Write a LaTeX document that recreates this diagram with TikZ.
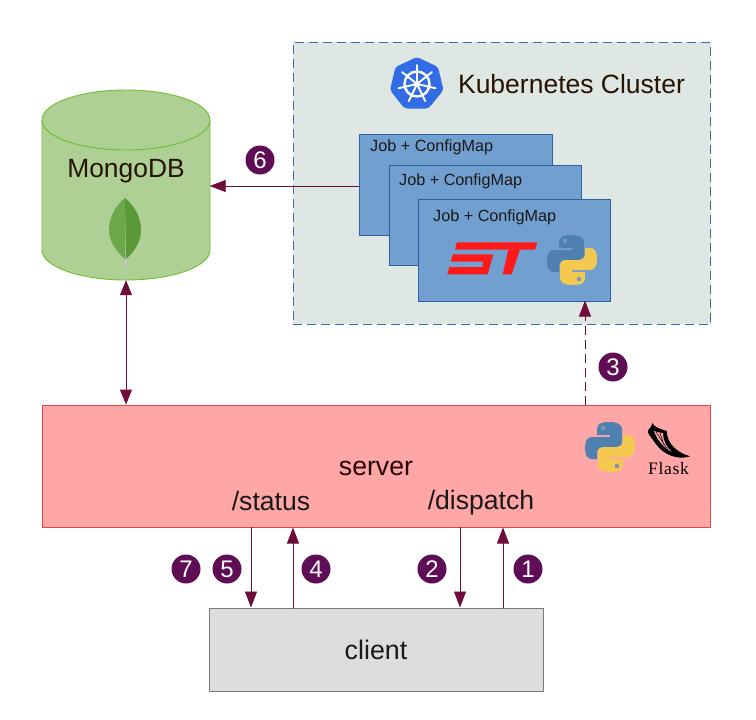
\documentclass[tikz,border=0pt]{standalone}
\usepackage{fontspec}
\setmainfont{Liberation Sans}
\newfontfamily\flaskfont[LetterSpace=4]{Liberation Serif}
\usetikzlibrary{arrows.meta}
\definecolor{arrowc}{HTML}{6E0C3A}
\definecolor{badgec}{HTML}{5F0E55}
\definecolor{clusterbg}{HTML}{DFE7E5}
\definecolor{clusterln}{HTML}{3C6AA5}
\definecolor{jobbg}{HTML}{719FD0}
\definecolor{jobln}{HTML}{2F60A0}
\definecolor{mongobg}{HTML}{AFD095}
\definecolor{mongoln}{HTML}{6CBF30}
\definecolor{leafl}{HTML}{6BA84A}
\definecolor{leafr}{HTML}{5A9838}
\definecolor{serverbg}{HTML}{FFA6A6}
\definecolor{serverln}{HTML}{E04848}
\definecolor{clientbg}{HTML}{DDDDDD}
\definecolor{clientln}{HTML}{7A7A7A}
\definecolor{pyblue}{HTML}{4F81B0}
\definecolor{pyyellow}{HTML}{F4C94F}
\definecolor{stred}{HTML}{FF1A1A}
\definecolor{kubeblue}{HTML}{326CE5}
\tikzset{
  x=1pt,y=-1pt,
  conn/.style={arrowc,line width=0.9pt,-{Triangle[length=16pt,width=12pt]},shorten >=-0.5pt},
  conn2/.style={arrowc,line width=0.9pt,{Triangle[length=15pt,width=12pt]}-{Triangle[length=15pt,width=12pt]}},
  dashconn/.style={conn,dash pattern=on 9pt off 5pt},
  badge/.style={circle,fill=badgec,text=white,minimum size=29pt,inner sep=0pt,font=\fontsize{24}{24}\selectfont},
  jobbox/.style={draw=jobln,fill=jobbg,line width=0.8pt,minimum width=192.5pt,inner sep=0pt},
  joblabel/.style={font=\fontsize{16.2}{18}\selectfont,text=black!90,inner sep=0pt},
  pylogo/.pic={
    \fill[pyblue] (24,0) .. controls (16,0) and (12,2) .. (12,7) -- (12,13) -- (25,13) -- (25,15) -- (7,15)
      .. controls (2,15) and (0,19) .. (0,26) .. controls (0,33) and (2,37) .. (7,37) -- (12,37) -- (12,31)
      .. controls (12,27) and (15,25) .. (18,25) -- (31,25) .. controls (35,25) and (37,23) .. (37,19)
      -- (37,7) .. controls (37,2) and (32,0) .. (24,0) -- cycle;
    \fill[pyyellow] (26,50) .. controls (34,50) and (38,48) .. (38,43) -- (38,37) -- (25,37) -- (25,35) -- (43,35)
      .. controls (48,35) and (50,31) .. (50,24) .. controls (50,17) and (48,13) .. (43,13) -- (38,13) -- (38,19)
      .. controls (38,23) and (35,25) .. (32,25) -- (19,25) .. controls (15,25) and (13,27) .. (13,31)
      -- (13,43) .. controls (13,48) and (18,50) .. (26,50) -- cycle;
    \fill[pic actions] (18,6) circle (2.3);
    \fill[pic actions] (32,44) circle (2.3);
  }
}
\begin{document}
\begin{tikzpicture}
\useasboundingbox (0,0) rectangle (756,720);
\fill[white] (0,0) rectangle (756,720);

% cluster
\node[draw=clusterln,fill=clusterbg,line width=0.8pt,dash pattern=on 9pt off 5pt,minimum width=417.5pt,minimum height=282pt,inner sep=0pt] (cluster) at (501.75,183) {};
\node[inner sep=0pt,font=\fontsize{26.5}{30}\selectfont,text=black!85!orange] (kubelabel) at (571.5,84) {Kubernetes Cluster};
% kubernetes logo
\fill[kubeblue,rounded corners=3pt] (417,57) -- (438,67) -- (443.5,90) -- (428.5,108.5) -- (404.5,108.5) -- (390,90) -- (395.5,67) -- cycle;
\begin{scope}[shift={(417,84)}]
  \draw[white,line width=2.4pt] (0,0) circle (12.5);
  \foreach \a in {-90,-38.6,12.9,64.3,115.7,167.1,218.6} {
    \draw[white,line width=1.9pt,line cap=round] (0,0) -- (\a:19);
  }
  \fill[white] (0,0) circle (3);
\end{scope}

% jobs
\node[jobbox,minimum height=101pt] (job1) at (456,184.5) {};
\node[joblabel,anchor=west] (job1t) at (370,147.5) {Job + ConfigMap};
\node[jobbox,minimum height=100pt] (job2) at (485.25,215) {};
\node[joblabel,anchor=west] (job2t) at (399,181) {Job + ConfigMap};
\node[jobbox,minimum height=102pt] (job3) at (514.25,250) {};
\node[joblabel,anchor=west] (job3t) at (433,217) {Job + ConfigMap};
% ST logo
\fill[stred] (456.7,242.3) -- (537.3,242.3) -- (535,249.7) -- (455,249.7) -- cycle;
\fill[stred] (452.7,254.3) -- (493.3,254.3) -- (487.7,274.3) -- (447.3,274.3) -- (449.3,267) -- (482.3,267) -- (483.3,261.7) -- (450.7,261.7) -- cycle;
\fill[stred] (508.3,249.7) -- (520,249.7) -- (511.7,274.3) -- (502.7,274.3) -- cycle;
\pic[fill=pyblue!80!white] at (547,235) {pylogo};

% mongo
\path[fill=mongobg,draw=mongoln,line width=0.9pt] (42,120) -- (42,250) arc[start angle=180,end angle=360,x radius=84,y radius=-30] -- (210,120);
\path[fill=mongobg,draw=mongoln,line width=0.9pt] (42,120) arc[start angle=180,end angle=540,x radius=84,y radius=30];
\node[minimum width=168pt,minimum height=190pt,inner sep=0pt] (mongo) at (126,185) {};
\node[inner sep=0pt,font=\fontsize{26.4}{30}\selectfont,text=black!85!orange] (mongolabel) at (126,171) {MongoDB};
\fill[black!22] (124,250) -- (127,250) -- (126.5,268) -- (125,268) -- cycle;
\fill[leafl] (125,198) .. controls (115,206) and (109,218) .. (109,230) .. controls (109,242) and (117,252) .. (125,259) -- cycle;
\fill[leafr] (125,198) .. controls (135,206) and (141,218) .. (141,230) .. controls (141,242) and (134,252) .. (126,259) -- cycle;

% server
\node[draw=serverln,fill=serverbg,line width=0.8pt,minimum width=668pt,minimum height=122pt,inner sep=0pt] (server) at (376.5,466) {};
\node[inner sep=0pt,font=\fontsize{26.7}{30}\selectfont,text=black!85!red] (serverlabel) at (376,468) {server};
\node[inner sep=0pt,font=\fontsize{26.6}{30}\selectfont,text=black!90] (statuslabel) at (271,500.5) {/status};
\node[inner sep=0pt,font=\fontsize{26.6}{30}\selectfont,text=black!90] (dispatchlabel) at (481,502.5) {/dispatch};
\pic[fill=pyblue!65!serverbg] at (585,422) {pylogo};
% flask
\fill[black] (652.7,423) .. controls (653,426) and (657,428) .. (666.7,431) .. controls (667,440) and (672,449) .. (685,454.5) -- (690,456.3) .. controls (682,459) and (672,457.5) .. (664,452) .. controls (657,447) and (654,441) .. (650,436) .. controls (648,433) and (647,431) .. (648.3,430) .. controls (650,429) and (651,426) .. (652.7,423) -- cycle;
\fill[serverbg] (654,431) .. controls (657,432) and (660,433) .. (663,433) .. controls (663,440) and (666,447) .. (672,452) .. controls (665,449) and (657,440) .. (654,431) -- cycle;
\draw[black,line width=0.5pt] (656,432) -- (668,450) (660,433) -- (664,445);
\node[inner sep=0pt,font=\flaskfont\fontsize{17.5}{18}\selectfont,text=black] (flasklabel) at (668.5,468.5) {Flask};

% client
\node[draw=clientln,fill=clientbg,line width=0.8pt,minimum width=334pt,minimum height=83pt,inner sep=0pt] (client) at (376.5,649.5) {};
\node[inner sep=0pt,font=\fontsize{26.8}{30}\selectfont,text=black!90] (clientlabel) at (376,649.5) {client};

% connectors
\coordinate (a6s) at (job1.west |- 0,186);
\coordinate (a6e) at (mongo.east |- 0,186);
\draw[conn] (a6s) -- (a6e);
\draw[conn2] (mongo.south) -- (server.north -| mongo.south);
\coordinate (d3s) at (585,405);
\coordinate (d3e) at (585,301);
\draw[dashconn] (d3s) -- (d3e);
\coordinate (a7s) at (251,527);
\coordinate (a7e) at (251,607);
\draw[conn] (a7s) -- (a7e);
\coordinate (a4s) at (293,608);
\coordinate (a4e) at (293,528);
\draw[conn] (a4s) -- (a4e);
\coordinate (a2s) at (460,527);
\coordinate (a2e) at (460,607);
\draw[conn] (a2s) -- (a2e);
\coordinate (a1s) at (503,608);
\coordinate (a1e) at (503,528);
\draw[conn] (a1s) -- (a1e);

% badges
\node[badge] (b6) at (260,160) {6};
\node[badge] (b3) at (613,367) {3};
\node[badge] (b7) at (186,569) {7};
\node[badge] (b5) at (227,569) {5};
\node[badge] (b4) at (316,569) {4};
\node[badge] (b2) at (432,569) {2};
\node[badge] (b1) at (528,569) {1};
\end{tikzpicture}
\end{document}
